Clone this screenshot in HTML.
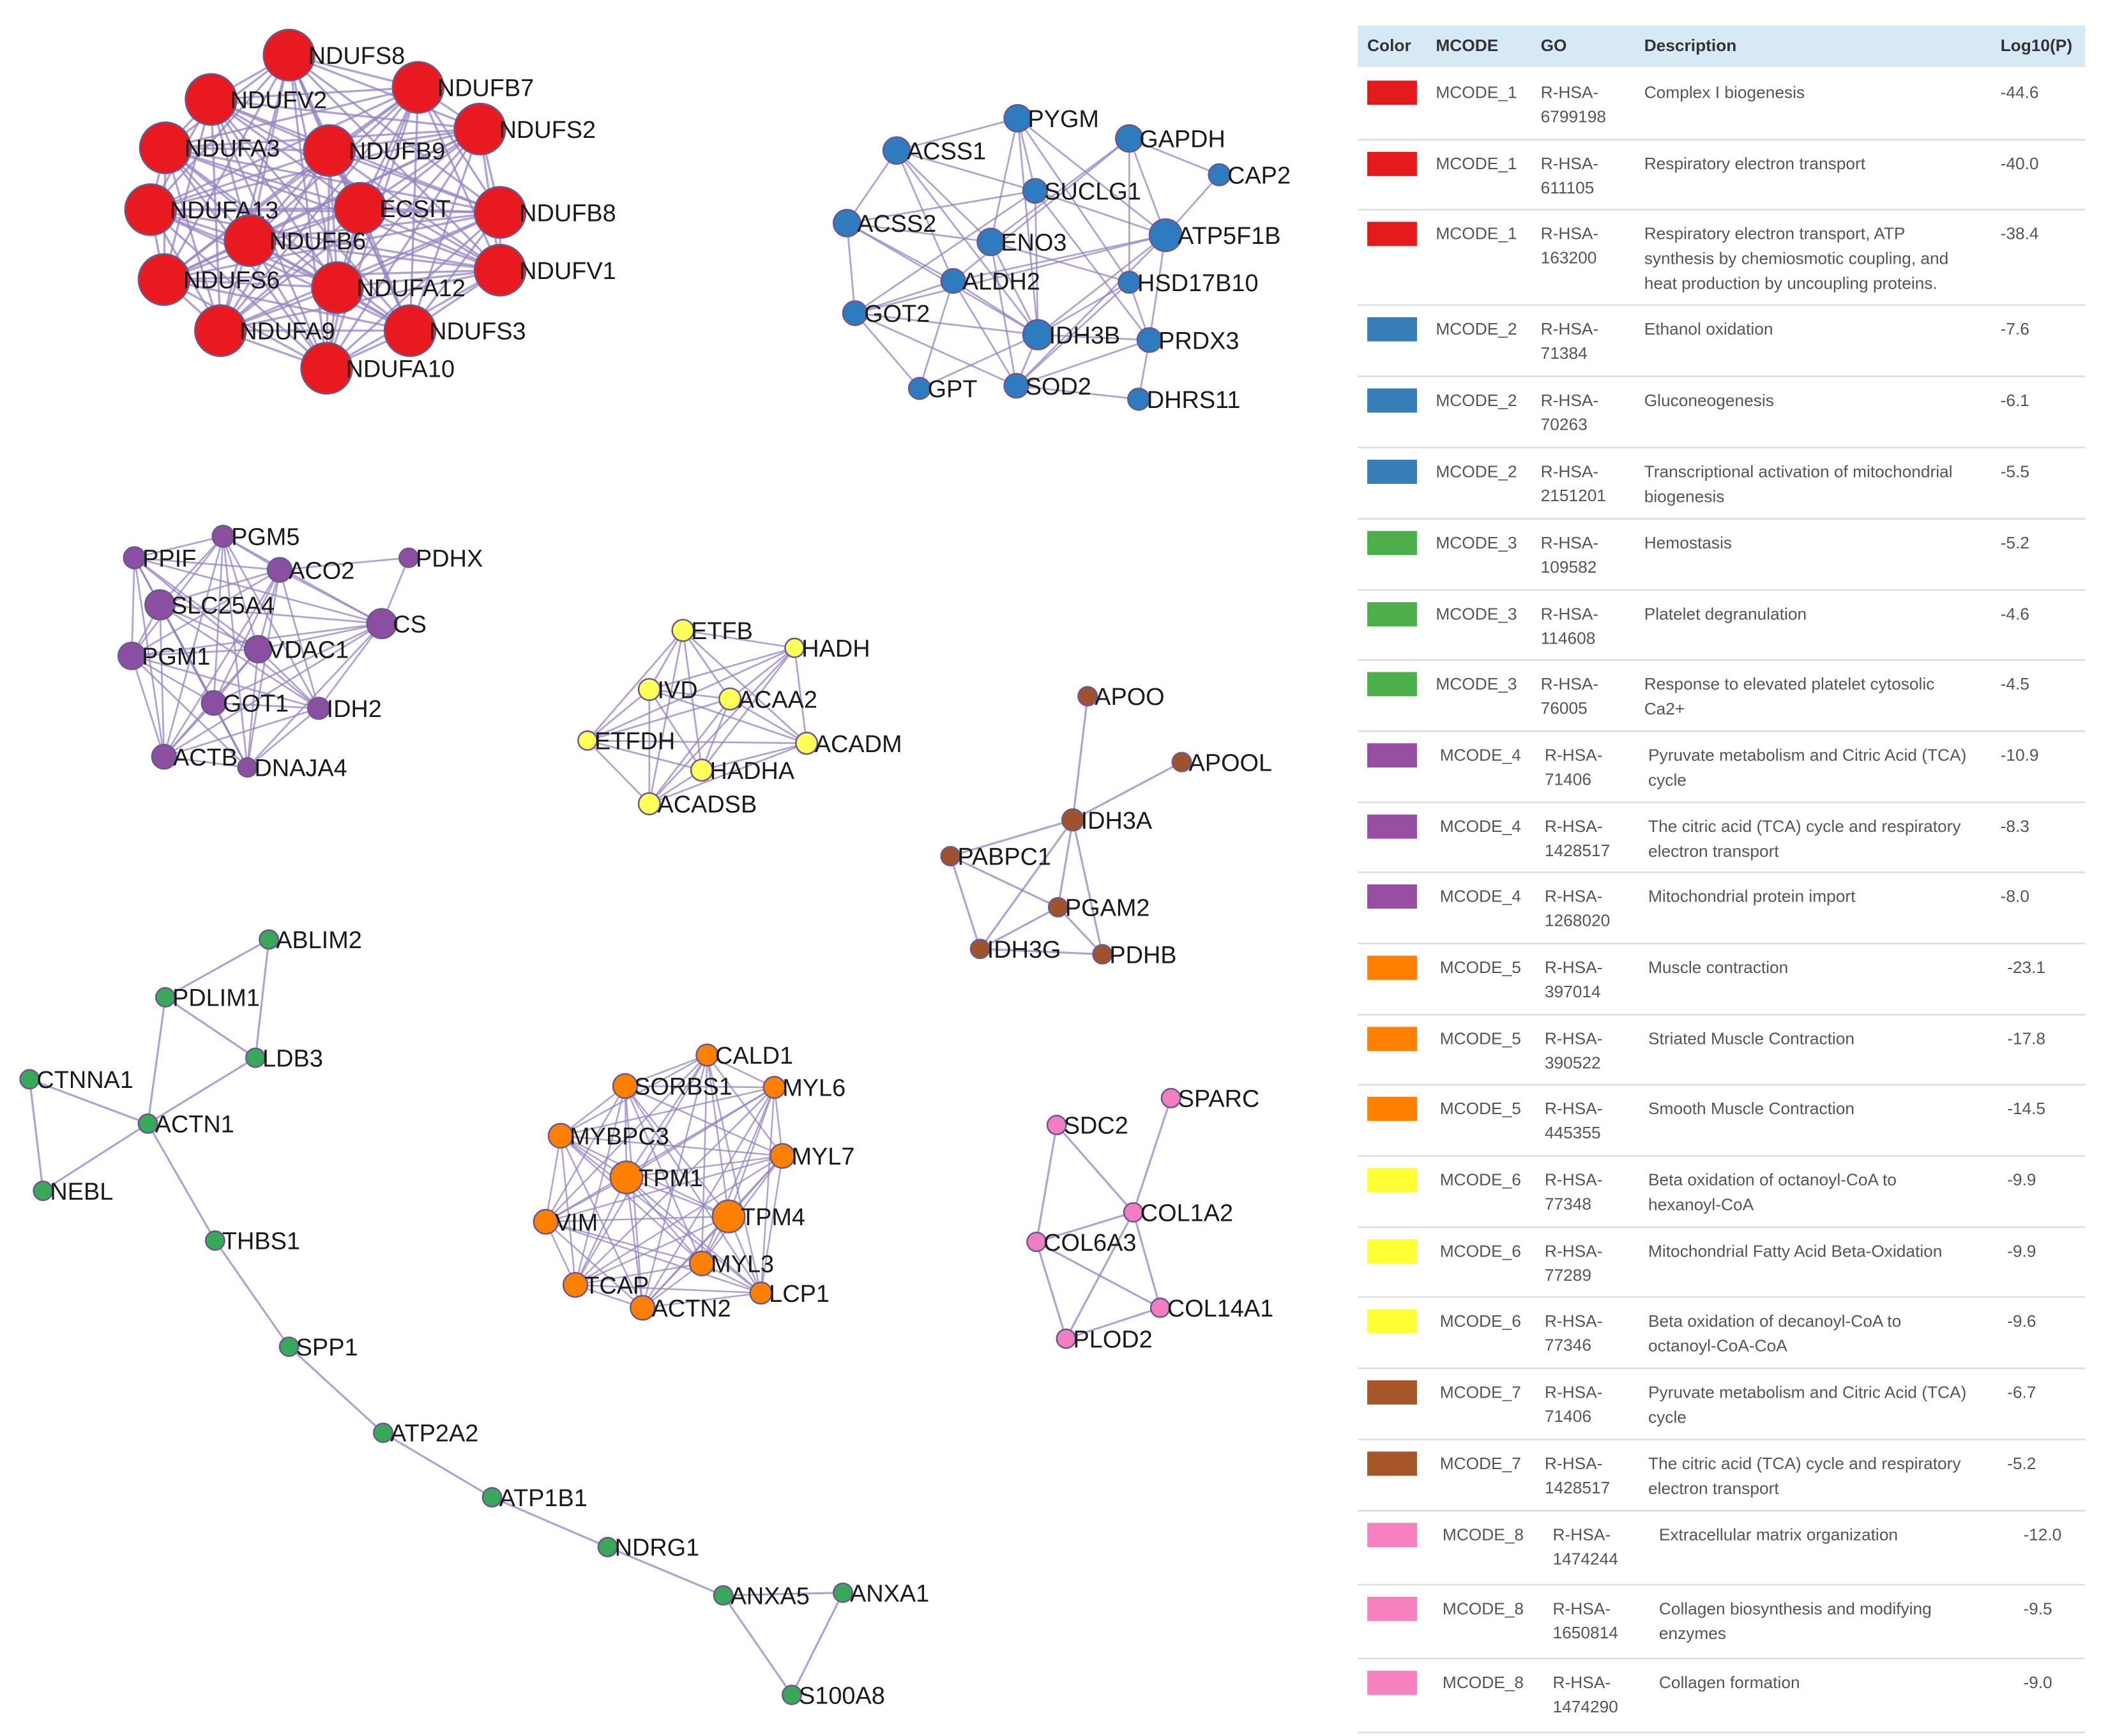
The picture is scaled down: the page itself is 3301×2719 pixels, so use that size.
<!DOCTYPE html>
<html><head><meta charset="utf-8"><style>
html,body{margin:0;padding:0;background:#fff;}
svg{display:block;}
text{font-family:"Liberation Sans",Arial,sans-serif;}
</style></head><body>
<svg id="s" xmlns="http://www.w3.org/2000/svg" width="3301" height="2719" viewBox="0 0 1568 1291.6" preserveAspectRatio="none">
<rect width="1568" height="1292" fill="#fff"/>
<g id="edges"></g><g id="nodes"></g><g id="table"></g>
</svg>
<script>
var NS="http://www.w3.org/2000/svg";
function el(p,t,a,txt){var e=document.createElementNS(NS,t);for(var k in a)e.setAttribute(k,a[k]);if(txt!==undefined)e.textContent=txt;p.appendChild(e);return e;}
var E=document.getElementById('edges'),N=document.getElementById('nodes'),T=document.getElementById('table');
var clusters=[
{c:"#e8191f",r:19,n:[["NDUFS8",215,41],["NDUFV2",157,74],["NDUFB7",311,65],["NDUFS2",357,96],["NDUFA3",123,110],["NDUFB9",245,112],["NDUFA13",112,156],["ECSIT",268,155],["NDUFB8",372,158],["NDUFB6",186,179],["NDUFS6",122,208],["NDUFA12",251,214],["NDUFV1",372,201],["NDUFA9",164,246],["NDUFS3",305,246],["NDUFA10",243,274]],all:true,w:1.6},
{c:"#2f7bbf",r:10,n:[["PYGM",757,88],["GAPDH",840,103],["ACSS1",667,112],["CAP2",907,130,8],["SUCLG1",770,142,9],["ACSS2",630,166],["ENO3",737,180],["ATP5F1B",867,175,12],["ALDH2",709,209,9],["HSD17B10",840,210,8],["GOT2",636,233,9],["IDH3B",772,249,11],["PRDX3",855,253,9],["GPT",684,289,8],["SOD2",756,287,9],["DHRS11",847,297,8]],
e:"PYGM-ACSS1 PYGM-SUCLG1 PYGM-ENO3 PYGM-IDH3B PYGM-ATP5F1B PYGM-HSD17B10 GAPDH-CAP2 GAPDH-ENO3 GAPDH-ATP5F1B GAPDH-ALDH2 GAPDH-HSD17B10 CAP2-ATP5F1B ACSS1-ACSS2 ACSS1-SUCLG1 ACSS1-ALDH2 ACSS1-ENO3 ACSS1-IDH3B SUCLG1-ACSS2 SUCLG1-ATP5F1B SUCLG1-IDH3B SUCLG1-GOT2 SUCLG1-PRDX3 ACSS2-ENO3 ACSS2-GOT2 ACSS2-IDH3B ACSS2-ALDH2 ENO3-HSD17B10 ENO3-SOD2 ENO3-IDH3B ATP5F1B-ALDH2 ATP5F1B-IDH3B ATP5F1B-SOD2 ATP5F1B-PRDX3 ATP5F1B-GOT2 ALDH2-GOT2 ALDH2-IDH3B ALDH2-SOD2 ALDH2-GPT HSD17B10-IDH3B HSD17B10-SOD2 HSD17B10-PRDX3 GOT2-IDH3B GOT2-GPT GOT2-SOD2 IDH3B-PRDX3 IDH3B-SOD2 PRDX3-SOD2 PRDX3-DHRS11 SOD2-DHRS11 IDH3B-GPT",w:1.3},
{c:"#8a4fa0",r:8,n:[["PGM5",166,399],["PPIF",100,415],["ACO2",208,424,9],["PDHX",304,415,7],["SLC25A4",119,450,11],["CS",284,464,11],["PGM1",98,488,10],["VDAC1",192,483,10],["GOT1",159,523,9],["IDH2",237,527],["ACTB",122,563,9],["DNAJA4",184,571,7]],all:true,skip:"PDHX",extra:"PDHX-ACO2 PDHX-CS",w:1.3},
{c:"#ffff5a",r:8,n:[["ETFB",508,469],["HADH",591,482,7],["IVD",483,513],["ACAA2",543,520],["ETFDH",437,551,7],["ACADM",600,553],["HADHA",522,573],["ACADSB",483,598]],all:true,w:1.3},
{c:"#a0522d",r:7,n:[["APOO",809,518],["APOOL",879,567],["IDH3A",798,610,8],["PABPC1",707,637],["PGAM2",787,675],["IDH3G",729,706],["PDHB",820,710]],e:"APOO-IDH3A APOOL-IDH3A IDH3A-PABPC1 IDH3A-PGAM2 IDH3A-IDH3G IDH3A-PDHB PABPC1-PGAM2 PABPC1-IDH3G PGAM2-IDH3G PGAM2-PDHB IDH3G-PDHB",w:1.5},
{c:"#3aa85a",r:7,n:[["ABLIM2",200,699],["PDLIM1",123,742],["LDB3",190,787],["CTNNA1",22,803],["ACTN1",110,836],["NEBL",32,886],["THBS1",160,923],["SPP1",215,1002],["ATP2A2",285,1066],["ATP1B1",366,1114],["NDRG1",452,1151],["ANXA5",538,1187],["ANXA1",627,1185],["S100A8",589,1261]],e:"ABLIM2-PDLIM1 ABLIM2-LDB3 PDLIM1-LDB3 PDLIM1-ACTN1 LDB3-ACTN1 CTNNA1-ACTN1 CTNNA1-NEBL NEBL-ACTN1 ACTN1-THBS1 THBS1-SPP1 SPP1-ATP2A2 ATP2A2-ATP1B1 ATP1B1-NDRG1 NDRG1-ANXA5 ANXA5-ANXA1 ANXA5-S100A8 ANXA1-S100A8",w:1.5},
{c:"#ff8000",r:9,n:[["CALD1",526,785,8],["SORBS1",465,808],["MYL6",576,809,8],["MYBPC3",417,845],["MYL7",582,860],["TPM1",466,876,12],["TPM4",542,905,12],["VIM",406,909],["MYL3",522,940],["TCAP",428,956],["LCP1",566,962,8],["ACTN2",478,973]],all:true,w:1.2},
{c:"#f07ec0",r:7,n:[["SPARC",871,817],["SDC2",786,837],["COL1A2",843,902],["COL6A3",771,924],["COL14A1",863,973],["PLOD2",793,996]],e:"SPARC-COL1A2 SDC2-COL1A2 SDC2-COL6A3 COL1A2-COL6A3 COL1A2-COL14A1 COL1A2-PLOD2 COL6A3-COL14A1 COL6A3-PLOD2 COL14A1-PLOD2",w:1.5}
];
clusters.forEach(function(cl){
  var m={};cl.n.forEach(function(n){m[n[0]]=n;});
  var pairs=[];
  if(cl.all){for(var i=0;i<cl.n.length;i++)for(var j=i+1;j<cl.n.length;j++){if(cl.skip&&(cl.n[i][0]==cl.skip||cl.n[j][0]==cl.skip))continue;pairs.push([cl.n[i],cl.n[j]]);}}
  var s=(cl.e||"")+" "+(cl.extra||"");
  s.trim().split(/\s+/).forEach(function(p){if(!p)return;var a=p.split("-");if(m[a[0]]&&m[a[1]])pairs.push([m[a[0]],m[a[1]]]);});
  pairs.forEach(function(p){el(E,"line",{x1:p[0][1],y1:p[0][2],x2:p[1][1],y2:p[1][2],stroke:"#9583c2","stroke-width":cl.w,"stroke-opacity":0.75});});
  cl.n.forEach(function(n){var r=n[3]||cl.r;
    el(N,"circle",{cx:n[1],cy:n[2],r:r,fill:cl.c,stroke:"#6a5a8c","stroke-width":1.2});
    el(N,"text",{x:n[1]+r*0.75,y:n[2]+6.5,"font-size":18,fill:"#1a1a1a"},n[0]);
  });
});
// table
el(T,"rect",{x:1010,y:19,width:541,height:31,fill:"#d6e9f5"});
var hx=[1017,1068,1146,1223,1488],hs=["Color","MCODE","GO","Description","Log10(P)"];
hs.forEach(function(h,i){el(T,"text",{x:hx[i],y:38,"font-size":12.5,"font-weight":"bold",fill:"#333"},h);});
var rows=[
["#e41a1c","MCODE_1","R-HSA-","6799198",["Complex I biogenesis"],"-44.6"],
["#e41a1c","MCODE_1","R-HSA-","611105",["Respiratory electron transport"],"-40.0"],
["#e41a1c","MCODE_1","R-HSA-","163200",["Respiratory electron transport, ATP","synthesis by chemiosmotic coupling, and","heat production by uncoupling proteins."],"-38.4"],
["#377eb8","MCODE_2","R-HSA-","71384",["Ethanol oxidation"],"-7.6"],
["#377eb8","MCODE_2","R-HSA-","70263",["Gluconeogenesis"],"-6.1"],
["#377eb8","MCODE_2","R-HSA-","2151201",["Transcriptional activation of mitochondrial","biogenesis"],"-5.5"],
["#4daf4a","MCODE_3","R-HSA-","109582",["Hemostasis"],"-5.2"],
["#4daf4a","MCODE_3","R-HSA-","114608",["Platelet degranulation"],"-4.6"],
["#4daf4a","MCODE_3","R-HSA-","76005",["Response to elevated platelet cytosolic","Ca2+"],"-4.5"],
["#984ea3","MCODE_4","R-HSA-","71406",["Pyruvate metabolism and Citric Acid (TCA)","cycle"],"-10.9"],
["#984ea3","MCODE_4","R-HSA-","1428517",["The citric acid (TCA) cycle and respiratory","electron transport"],"-8.3"],
["#984ea3","MCODE_4","R-HSA-","1268020",["Mitochondrial protein import"],"-8.0"],
["#ff7f00","MCODE_5","R-HSA-","397014",["Muscle contraction"],"-23.1"],
["#ff7f00","MCODE_5","R-HSA-","390522",["Striated Muscle Contraction"],"-17.8"],
["#ff7f00","MCODE_5","R-HSA-","445355",["Smooth Muscle Contraction"],"-14.5"],
["#ffff33","MCODE_6","R-HSA-","77348",["Beta oxidation of octanoyl-CoA to","hexanoyl-CoA"],"-9.9"],
["#ffff33","MCODE_6","R-HSA-","77289",["Mitochondrial Fatty Acid Beta-Oxidation"],"-9.9"],
["#ffff33","MCODE_6","R-HSA-","77346",["Beta oxidation of decanoyl-CoA to","octanoyl-CoA-CoA"],"-9.6"],
["#a65628","MCODE_7","R-HSA-","71406",["Pyruvate metabolism and Citric Acid (TCA)","cycle"],"-6.7"],
["#a65628","MCODE_7","R-HSA-","1428517",["The citric acid (TCA) cycle and respiratory","electron transport"],"-5.2"],
["#f781bf","MCODE_8","R-HSA-","1474244",["Extracellular matrix organization"],"-12.0"],
["#f781bf","MCODE_8","R-HSA-","1650814",["Collagen biosynthesis and modifying","enzymes"],"-9.5"],
["#f781bf","MCODE_8","R-HSA-","1474290",["Collagen formation"],"-9.0"]];
var tops=[52,105,157,228,281,334,387,440,492,545,598,650,703,756,808,861,914,966,1019,1072,1125,1180,1235];
rows.forEach(function(r,i){var y=tops[i];var off=i<9?0:(i<20?3:5);var loff=i<12?0:(i<20?5:17);
  el(T,"rect",{x:1017,y:y+8,width:37,height:18,fill:r[0]});
  el(T,"text",{x:1068+off,y:y+21,"font-size":12.5,fill:"#555"},r[1]);
  el(T,"text",{x:1146+off+(i>=20?4:0),y:y+21,"font-size":12.5,fill:"#555"},r[2]);
  el(T,"text",{x:1146+off+(i>=20?4:0),y:y+39,"font-size":12.5,fill:"#555"},r[3]);
  r[4].forEach(function(d,k){el(T,"text",{x:1223+off+(i>=20?6:0),y:y+21+k*18.5,"font-size":12.5,fill:"#555"},d);});
  el(T,"text",{x:1488+loff,y:y+21,"font-size":12.5,fill:"#555"},r[5]);
  var ny=(i+1<tops.length)?tops[i+1]:1290;
  el(T,"line",{x1:1010,y1:ny-1,x2:1551,y2:ny-1,stroke:"#dddddd","stroke-width":1.2});
});
</script>
</body></html>
